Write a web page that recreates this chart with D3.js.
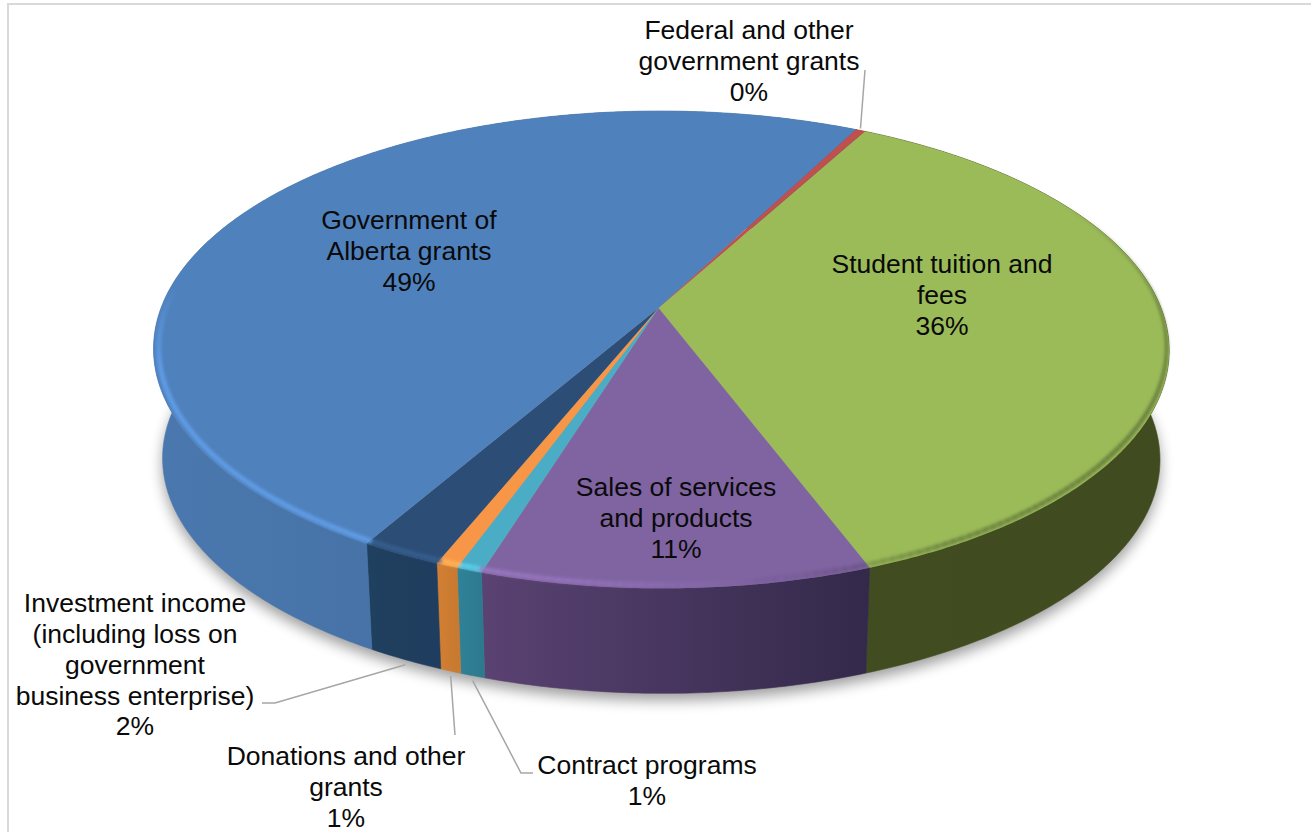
<!DOCTYPE html>
<html>
<head>
<meta charset="utf-8">
<script src="https://cdnjs.cloudflare.com/ajax/libs/d3/7.8.5/d3.min.js"></script>
<style>
  html, body { margin: 0; padding: 0; background: #fff; overflow: hidden; }
  text { font-family: "Liberation Sans", Arial, sans-serif; font-size: 26.5px; fill: #0a0a0a; }
</style>
</head>
<body>
<svg id="chart" width="1311" height="832"></svg>
<script>
// Revenue sources, in percent; labels show the values rounded to whole numbers.
const categories = [
  "Student tuition and fees",
  "Sales of services and products",
  "Contract programs",
  "Donations and other grants",
  "Investment income (including loss on government business enterprise)",
  "Government of Alberta grants",
  "Federal and other government grants"
];
const values = [36.35, 10.5, 0.7, 0.6, 2.2, 49.2, 0.35];
const labelLines = [
  ["Student tuition and", "fees"],
  ["Sales of services", "and products"],
  ["Contract programs"],
  ["Donations and other", "grants"],
  ["Investment income", "(including loss on", "government", "business enterprise)"],
  ["Government of", "Alberta grants"],
  ["Federal and other", "government grants"]
];

// Slice colours: top face, then wall gradient stops from left to right.
const topColors  = ["#9bbb59", "#8064a2", "#4bacc6", "#f79646", "#2c4d75", "#4f81bd", "#c0504d"];
const wallColors = [
  ["#414d20", "#404b20"],
  ["#5a4272", "#33294a"],
  ["#2f8298", "#2d7a8e"],
  ["#d27f33", "#c87a30"],
  ["#20405f", "#1f3d5e"],
  ["#4a78ae", "#3f6798"],
  ["#7a2f2d", "#7a2f2d"]
];

// Label layout: text centre, first line centre, and leader elbows.
const labelLayout = [
  { x: 942, y: 264 },
  { x: 676, y: 487 },
  { x: 647, y: 765, leader: [[533, 773], [521, 773]] },
  { x: 346, y: 756, leader: [[455, 735]] },
  { x: 135, y: 603, leader: [[262, 703], [275, 703]] },
  { x: 409, y: 220 },
  { x: 749, y: 30, leader: [[865, 70]] }
];
const lineStep = 30.8;

const svg = d3.select("#chart");
const defs = svg.append("defs");

// Light frame along the top and left of the chart area.
svg.append("path")
  .attr("d", "M8,832V4H1311")
  .attr("fill", "none").attr("stroke", "#d9d9d9").attr("stroke-width", 2);

// Perspective mapping of the pie's unit disc onto the page.
const view = {
  cx: 658.5, cy: 308, a: 500, b: 231.4, shearY: -1, shearX: 3.5,
  k: -0.1746, m: -0.0043, depthScale: 0.982, depthShift: 115.6
};
function topPoint(angle, r = 1) {
  const x = r * Math.sin(angle), y = -r * Math.cos(angle);
  const w = 1 + view.k * y + view.m * x;
  return [
    view.cx + (view.a * x + view.shearX * y) / w,
    view.cy + (view.b * y + view.shearY * x) / w
  ];
}
function basePoint(angle) {
  const [x, y] = topPoint(angle);
  return [view.cx + (x - view.cx) * view.depthScale, y * view.depthScale + view.depthShift];
}

const startAngle = 0.502;
const pie = d3.pie().sort(null).value(d => d)
  .startAngle(startAngle)
  .endAngle(startAngle + 2 * Math.PI);
const arcs = pie(values);
const line = d3.line();
const percent = d => d3.format(".0f")(d) + "%";

function sample(a0, a1, fn) {
  const n = Math.max(2, Math.ceil(Math.abs(a1 - a0) / 0.01));
  return d3.range(n + 1).map(i => fn(a0 + (a1 - a0) * i / n));
}

// Soft filters for the cast shadow and the rim bevel.
defs.append("filter").attr("id", "shadowBlur")
  .attr("x", "-10%").attr("y", "-10%").attr("width", "120%").attr("height", "130%")
  .append("feGaussianBlur").attr("stdDeviation", 7);
defs.append("filter").attr("id", "rimBlur").attr("filterUnits", "userSpaceOnUse")
  .attr("x", 0).attr("y", 0).attr("width", 1311).attr("height", 832)
  .append("feGaussianBlur").attr("stdDeviation", 1.5);

// Cast shadow below the disc.
svg.append("path")
  .attr("d", line(sample(0, 2 * Math.PI, basePoint)) + "Z")
  .attr("transform", "translate(0,7)")
  .attr("fill", "#000").attr("opacity", 0.38)
  .attr("filter", "url(#shadowBlur)");

// Walls; anything on the far side ends up hidden under the top faces.
const walls = svg.append("g");
arcs.forEach((d, i) => {
  const topEdge = sample(d.startAngle, d.endAngle, topPoint);
  const baseEdge = sample(d.endAngle, d.startAngle, basePoint);
  const xs = topEdge.map(p => p[0]);
  const id = "wall" + i;
  const g = defs.append("linearGradient").attr("id", id)
    .attr("gradientUnits", "userSpaceOnUse")
    .attr("x1", d3.min(xs)).attr("x2", d3.max(xs)).attr("y1", 0).attr("y2", 0);
  g.append("stop").attr("offset", 0).attr("stop-color", wallColors[i][0]);
  g.append("stop").attr("offset", 1).attr("stop-color", wallColors[i][1]);
  walls.append("path")
    .attr("d", line(topEdge.concat(baseEdge)) + "Z")
    .attr("fill", `url(#${id})`)
    .attr("stroke", `url(#${id})`).attr("stroke-width", 0.6);
});

// Top faces.
const tops = svg.append("g");
arcs.forEach((d, i) => {
  const rim = sample(d.startAngle, d.endAngle, topPoint);
  tops.append("path")
    .attr("d", line([[view.cx, view.cy]].concat(rim)) + "Z")
    .attr("fill", topColors[i]);
});

// Bevel band along the rim, tinted from each slice: shaded to the right,
// bright to the left. Negative strengths darken, positive ones lighten.
const shade = d3.scaleLinear()
  .domain([60, 90, 115, 150, 172, 188, 205, 255, 275])
  .range([0, -0.5, -0.55, -0.45, 0, 0.5, 0.85, 0.85, 0])
  .clamp(true);
const bevelRadius = d3.scaleLinear().domain([85, 125]).range([0.998, 0.99]).clamp(true);
const bevelWidth = d3.scaleLinear().domain([85, 125]).range([3, 5]).clamp(true);
function sliceAt(rad) {
  const t = rad < startAngle ? rad + 2 * Math.PI : rad;
  return arcs.findIndex(d => t >= d.startAngle && t < d.endAngle);
}
const bevel = svg.append("g").attr("filter", "url(#rimBlur)").attr("fill", "none");
d3.range(60, 275, 1).forEach(deg => {
  const a0 = deg * Math.PI / 180, a1 = (deg + 1.15) * Math.PI / 180;
  const s = shade(deg);
  const base = d3.rgb(topColors[Math.max(0, sliceAt((a0 + a1) / 2))]);
  bevel.append("path")
    .attr("d", line(sample(a0, a1, a => topPoint(a, bevelRadius(deg)))))
    .attr("stroke", s < 0 ? base.darker(2).formatHex() : base.brighter(0.6).formatHex())
    .attr("stroke-opacity", Math.abs(s))
    .attr("stroke-width", bevelWidth(deg));
});

// Leader lines run from each small slice's rim to its label.
const leaders = svg.append("g").attr("fill", "none")
  .attr("stroke", "#a6a6a6").attr("stroke-width", 1.5);
arcs.forEach((d, i) => {
  const elbow = labelLayout[i].leader;
  if (!elbow) return;
  const mid = (d.startAngle + d.endAngle) / 2;
  const isBack = Math.cos(mid) > 0;
  const edge = isBack ? topPoint(mid) : basePoint(mid);
  const tip = [edge[0], edge[1] + (isBack ? -2 : 5)];
  leaders.append("path").attr("d", line(elbow.concat([tip])));
});

// Category names with their percentages.
const labels = svg.append("g").attr("text-anchor", "middle");
labelLines.forEach((lines, i) => {
  const { x, y } = labelLayout[i];
  lines.concat(percent(values[i])).forEach((t, j) => {
    labels.append("text")
      .attr("x", x).attr("y", y + j * lineStep)
      .attr("dy", "0.35em")
      .text(t);
  });
});
</script>
</body>
</html>
